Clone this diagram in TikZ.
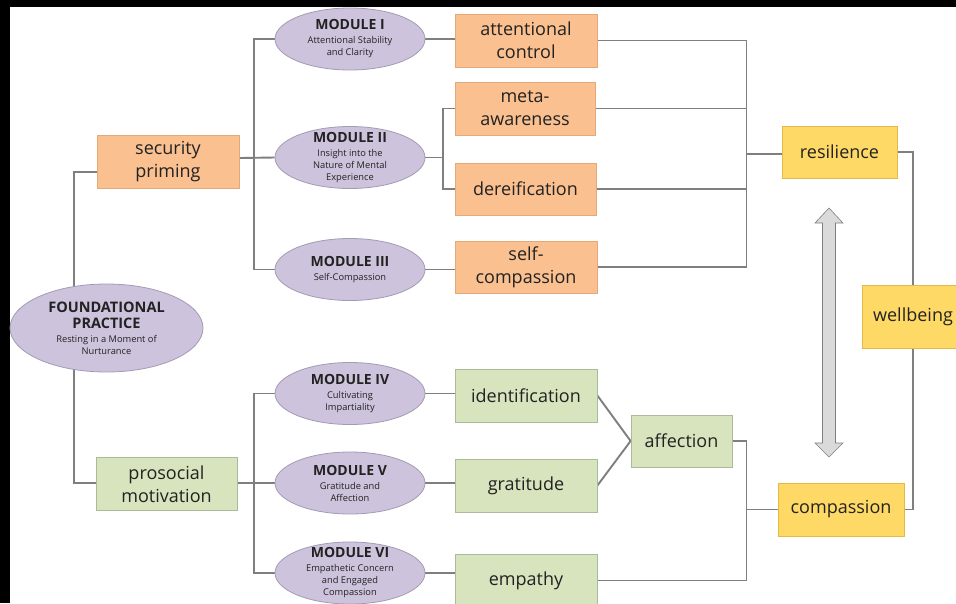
\documentclass[tikz,border=0pt]{standalone}
\usepackage{fontspec}
\setmainfont{Open Sans}
\usetikzlibrary{shapes.geometric, calc}
\definecolor{orangefill}{HTML}{FAC090}
\definecolor{orangeline}{HTML}{E3A979}
\definecolor{mauvefill}{HTML}{CDC3DC}
\definecolor{mauveline}{HTML}{A39BB3}
\definecolor{greenfill}{HTML}{D8E4BE}
\definecolor{greenline}{HTML}{ADBA97}
\definecolor{yellowfill}{HTML}{FFD966}
\definecolor{yellowline}{HTML}{E2B94A}
\definecolor{linkgray}{HTML}{7F7F7F}
\definecolor{arrowgray}{HTML}{DADADA}
\definecolor{textgray}{HTML}{222222}
\newcommand{\modhead}[1]{\textbf{\fontsize{14}{16}\selectfont #1}\\[2pt]}

\pgfdeclarelayer{background}
\pgfsetlayers{background,main}

\begin{document}
\begin{tikzpicture}[x=1pt, y=-1pt,
  every node/.style={text=textgray},
  box/.style={draw, line width=0.8pt, minimum width=142pt, minimum height=53pt,
    inner sep=2pt, align=center, font=\fontsize{18}{23}\selectfont},
  orangebox/.style={box, fill=orangefill, draw=orangeline},
  greenbox/.style={box, fill=greenfill, draw=greenline},
  yellowbox/.style={box, fill=yellowfill, draw=yellowline},
  module/.style={ellipse, draw=mauveline, fill=mauvefill, line width=0.8pt,
    minimum width=150pt, minimum height=62pt, inner xsep=0pt, inner ysep=-5pt,
    align=center, font=\fontsize{9.3}{12}\selectfont},
  link/.style={draw=linkgray, line width=1.9pt}]

  \useasboundingbox (0,0) rectangle (956,603);
  \clip (0,0) rectangle (956,603);

  % Frame
  \begin{pgfonlayer}{background}
    \fill[black] (0,0) rectangle (956,603);
    \fill[white] (10,7) rectangle (956,603);
  \end{pgfonlayer}

  % Foundational practice
  \node[module, minimum width=193pt, minimum height=88pt, inner ysep=0pt] (found) at (106.5,328)
    {\textbf{\fontsize{14.5}{16}\selectfont FOUNDATIONAL}\\[4.5pt]\textbf{\fontsize{14.5}{16}\selectfont PRACTICE}\\[1.5pt]Resting in a Moment of\\Nurturance};

  % Motivations
  \node[orangebox] (secprim) at (168,161.5) {security\\priming};
  \node[greenbox, minimum width=141pt] (prosoc) at (166.5,484) {prosocial\\motivation};

  % Modules
  \node[module] (mod1) at (350,39)    {\modhead{MODULE I}Attentional Stability\\and Clarity};
  \node[module] (mod2) at (350,157.5) {\modhead{MODULE II}Insight into the\\Nature of Mental\\Experience};
  \node[module] (mod3) at (350,269.5) {\modhead{MODULE III}Self-Compassion};
  \node[module] (mod4) at (350,393.5) {\modhead{MODULE IV}Cultivating\\Impartiality};
  \node[module] (mod5) at (350,483)   {\modhead{MODULE V}Gratitude and\\Affection};
  \node[module] (mod6) at (350,573)   {\modhead{MODULE VI}Empathetic Concern\\and Engaged\\Compassion};

  % Skills
  \node[orangebox] (attn)   at (526,40.5)  {attentional\\control};
  \node[orangebox, minimum width=140pt] (meta) at (525,108.5) {meta-\\awareness};
  \node[orangebox, minimum width=141pt, minimum height=52pt] (dereif) at (525.5,189) {dereification};
  \node[orangebox, minimum height=52pt] (selfc) at (526,267) {self-\\compassion};
  \node[greenbox] (ident) at (526,395.5) {identification};
  \node[greenbox] (grat)  at (526,485.5) {gratitude};
  \node[greenbox] (empat) at (526,580.5) {empathy};
  \node[greenbox, minimum width=101pt, minimum height=52pt] (affec) at (681.5,441) {affection};

  % Outcomes
  \node[yellowbox, minimum width=115pt, minimum height=52pt] (resil) at (839.5,152) {resilience};
  \node[yellowbox, minimum width=126pt] (compas) at (841,509.5) {compassion};
  \node[yellowbox, minimum width=102pt, minimum height=63pt] (wellb) at (913,316.5) {wellbeing};

  % Double arrow
  \draw[fill=arrowgray, draw=linkgray, line width=0.6pt]
    (829,208) -- (843,223) -- (835.5,223) -- (835.5,443) -- (843,443) -- (829,457)
    -- (815,443) -- (822.5,443) -- (822.5,223) -- (815,223) -- cycle;

  % Buses
  \coordinate (fdup)   at (74,172);
  \coordinate (fdlow)  at (74,483);
  \coordinate (secbus) at (254,158);
  \coordinate (probus) at (254,483);
  \coordinate (m2bus)  at (443,157.5);
  \coordinate (resbus) at (746.5,154);
  \coordinate (cmpbus) at (746.5,509.5);

  % Connectors
  \begin{pgfonlayer}{background}
    \draw[link] (found.center -| fdup) -- (fdup) -- (fdup -| secprim.west);
    \draw[link] (found.center -| fdlow) -- (fdlow) -- (fdlow -| prosoc.west);

    \draw[link] (secbus -| secprim.east) -- (mod2.west);
    \draw[link] (mod1.west) -| (secbus) |- (mod3.west);
    \draw[link] (probus -| prosoc.east) -- (mod5.west);
    \draw[link] (mod4.west) -| (probus) |- (mod6.west);

    \draw[link] (mod1.east) -- (mod1.east -| attn.west);
    \draw[link] (mod2.east) -- (m2bus);
    \draw[link] (meta.west) -| (m2bus) |- (dereif.west);
    \draw[link] (mod3.east) -- (mod3.east -| selfc.west);
    \draw[link] (mod4.east) -- (mod4.east -| ident.west);
    \draw[link] (mod5.east) -- (mod5.east -| grat.west);
    \draw[link] (mod6.east) -- (mod6.east -| empat.west);

    \draw[link] (attn.east) -| (resbus) |- (selfc.east);
    \draw[link] (meta.east) -- (meta.east -| resbus);
    \draw[link] (dereif.east) -- (dereif.east -| resbus);
    \draw[link] (resbus) -- (resbus -| resil.west);

    \draw[link] (ident.east) -- (affec.west);
    \draw[link] (grat.east) -- (affec.west);
    \draw[link] (affec.east) -| (cmpbus) |- (empat.east);
    \draw[link] (cmpbus) -- (compas.west);

    \draw[link] (resil.east) -| (wellb.north);
    \draw[link] (compas.east) -| (wellb.south);
  \end{pgfonlayer}

\end{tikzpicture}
\end{document}
